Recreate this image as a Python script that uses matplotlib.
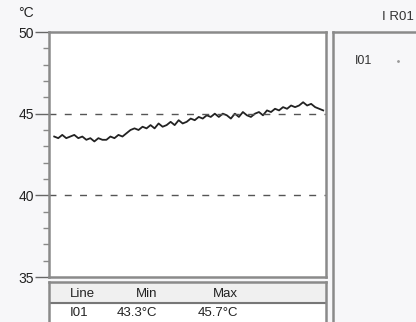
import matplotlib.pyplot as plt
from matplotlib import font_manager

# temperature trace of line I01 (deg C)
temps = [43.6, 43.5, 43.7, 43.5, 43.6, 43.7, 43.5, 43.6, 43.4, 43.5,
         43.3, 43.5, 43.4, 43.4, 43.6, 43.5, 43.7, 43.6, 43.8, 44.0,
         44.1, 44.0, 44.2, 44.1, 44.3, 44.1, 44.4, 44.2, 44.3, 44.5,
         44.3, 44.6, 44.4, 44.5, 44.7, 44.6, 44.8, 44.7, 44.9, 44.8,
         45.0, 44.8, 45.0, 44.9, 44.7, 45.0, 44.8, 45.1, 44.9, 44.8,
         45.0, 45.1, 44.9, 45.2, 45.1, 45.3, 45.2, 45.4, 45.3, 45.5,
         45.4, 45.5, 45.7, 45.5, 45.6, 45.4, 45.3, 45.2]
y_ticks = [35, 40, 45, 50]
ref_lines = [40, 45]
table_header = ['Line', 'Min', 'Max']
table_row = ['I01', '43.3°C', '45.7°C']
panel_title = 'I R01'
line_name = 'I01'

fams = [f.name for f in font_manager.fontManager.ttflist]
if 'Liberation Sans Narrow' in fams:
    plt.rcParams['font.family'] = ['Liberation Sans Narrow', 'DejaVu Sans']
else:
    plt.rcParams['font.family'] = ['Liberation Sans', 'DejaVu Sans']

W, H = 416, 322
bg = '#f7f7f9'
edge = '#8a8a8a'
fig = plt.figure(figsize=(W / 100, H / 100), dpi=100, facecolor=bg)


def px_axes(x0, y0, x1, y1):
    return fig.add_axes([x0 / W, 1 - y1 / H, (x1 - x0) / W, (y1 - y0) / H])


# main plot
ax = px_axes(49, 32, 326, 277)
ax.set_facecolor('white')
xs = list(range(len(temps)))
ax.plot(xs, temps, color='#222222', lw=1.3)
for v in ref_lines:
    ax.axhline(v, color='#555555', lw=1.0, dashes=(5, 6))
ax.set_xlim(-1.3, len(temps) - 0.3)
ax.set_ylim(35, 50)
ax.set_xticks([])
ax.set_yticks(y_ticks)
ax.set_yticks(range(35, 51), minor=True)
ax.tick_params(axis='y', which='major', length=10, width=1, color='#666666',
               labelsize=10, pad=1, labelcolor='#222222')
ax.tick_params(axis='y', which='minor', length=4, width=1, color='#888888')
for s in ax.spines.values():
    s.set_color(edge)
    s.set_linewidth(1.8)
ax.text(-0.11, 1.05, '°C', transform=ax.transAxes, fontsize=10,
        color='#222222', ha='left', va='bottom')

# stats table under the plot
tb = px_axes(49, 282, 326, 330)
tb.set_xlim(0, 277)
tb.set_ylim(48, 0)
tb.set_xticks([])
tb.set_yticks([])
tb.set_facecolor('white')
tb.axhspan(0, 21, color='#f0f0f0')
tb.axhline(21, color='#777777', lw=1.5)
for s in tb.spines.values():
    s.set_color(edge)
    s.set_linewidth(1.8)
col_x = [21, 108, 189]
aligns = ['left', 'right', 'right']
for cx, al, h, r in zip(col_x, aligns, table_header, table_row):
    tb.text(cx, 12, h, ha=al, va='center', fontsize=9.5, color='#222222')
    tb.text(cx, 31, r, ha=al, va='center', fontsize=9.5, color='#222222')

# legend panel on the right
lp = px_axes(333, 32, 430, 330)
lp.set_xlim(0, 97)
lp.set_ylim(298, 0)
lp.set_xticks([])
lp.set_yticks([])
lp.set_facecolor(bg)
for s in lp.spines.values():
    s.set_color(edge)
    s.set_linewidth(1.8)
lp.text(22, 29, line_name, ha='left', va='center', fontsize=9, color='#333333')
lp.plot([65], [29], marker='.', ms=2, color='#999999')
fig.text(414 / W, 1 - 17 / H, panel_title, ha='right', va='center',
         fontsize=9.5, color='#333333')

fig.savefig('out.png', dpi=100, facecolor=bg)
